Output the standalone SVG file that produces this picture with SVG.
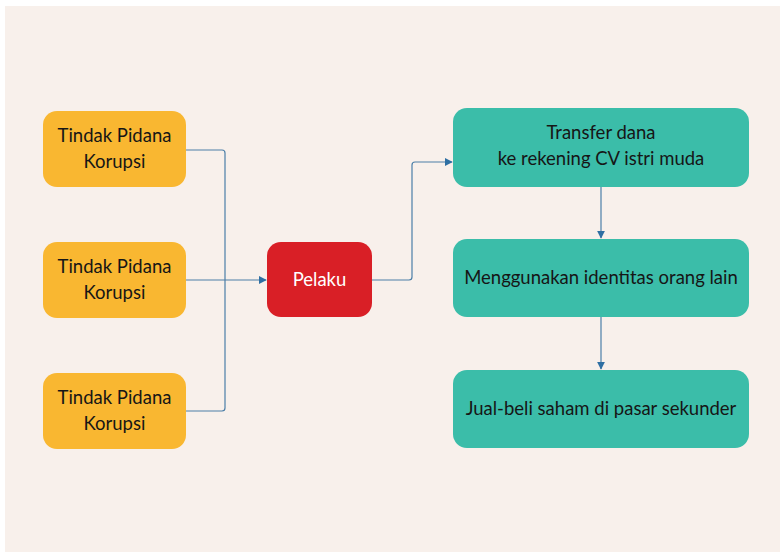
<svg xmlns="http://www.w3.org/2000/svg" width="780" height="552" viewBox="0 0 780 552">
  <style>
    .lbl { font-family: Lato, "Noto Sans", "Liberation Sans", sans-serif; font-size: 18.5px; text-anchor: middle; fill: #161616; }
    .lbl-w { fill: #ffffff; }
    .orange { fill: #F9B731; }
    .teal { fill: #3BBDA9; }
    .red { fill: #D91F26; }
    .conn { fill: none; stroke: #4C7FA8; stroke-width: 1.2; }
  </style>
  <defs>
    <marker id="arrow" viewBox="0 0 10 10" refX="9" refY="5" markerWidth="8" markerHeight="8" markerUnits="userSpaceOnUse" orient="auto">
      <path d="M0,0 L10,5 L0,10 z" fill="#2F6FA3"/>
    </marker>
  </defs>

  <rect width="780" height="552" fill="#ffffff"/>
  <rect x="5" y="6" width="775" height="546" fill="#F8F0EB"/>

  <g id="connectors">
    <path class="conn" d="M186,150 H222 Q225,150 225,153 V408 Q225,411 222,411 H186"/>
    <path class="conn" d="M186,280 H266" marker-end="url(#arrow)"/>
    <path class="conn" d="M372,280 H409 Q412,280 412,277 V165 Q412,162 415,162 H452" marker-end="url(#arrow)"/>
    <path class="conn" d="M601,187 V238" marker-end="url(#arrow)"/>
    <path class="conn" d="M601,317 V369" marker-end="url(#arrow)"/>
  </g>

  <g id="tpk1">
    <rect class="orange" x="43" y="111" width="143" height="76" rx="14"/>
    <text class="lbl" x="114.5" y="142">Tindak Pidana</text>
    <text class="lbl" x="114.5" y="168">Korupsi</text>
  </g>
  <g id="tpk2">
    <rect class="orange" x="43" y="242" width="143" height="76" rx="14"/>
    <text class="lbl" x="114.5" y="273">Tindak Pidana</text>
    <text class="lbl" x="114.5" y="299">Korupsi</text>
  </g>
  <g id="tpk3">
    <rect class="orange" x="43" y="373" width="143" height="76" rx="14"/>
    <text class="lbl" x="114.5" y="404">Tindak Pidana</text>
    <text class="lbl" x="114.5" y="430">Korupsi</text>
  </g>

  <g id="pelaku">
    <rect class="red" x="267" y="242" width="105" height="75" rx="14"/>
    <text class="lbl lbl-w" x="319.5" y="286">Pelaku</text>
  </g>

  <g id="transfer">
    <rect class="teal" x="453" y="108" width="296" height="79" rx="14"/>
    <text class="lbl" x="601" y="139">Transfer dana</text>
    <text class="lbl" x="601" y="165">ke rekening CV istri muda</text>
  </g>
  <g id="identitas">
    <rect class="teal" x="453" y="239" width="296" height="78" rx="14"/>
    <text class="lbl" x="601" y="284">Menggunakan identitas orang lain</text>
  </g>
  <g id="saham">
    <rect class="teal" x="453" y="370" width="296" height="78" rx="14"/>
    <text class="lbl" x="601" y="415">Jual-beli saham di pasar sekunder</text>
  </g>
</svg>
